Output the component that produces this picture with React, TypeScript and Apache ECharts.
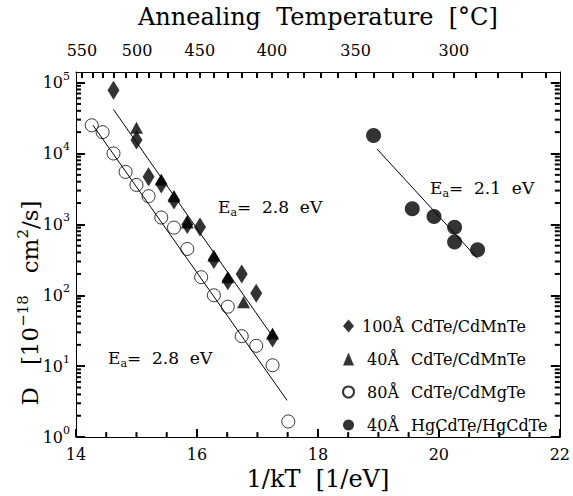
import { useEffect, useRef } from "react";
import * as echarts from "echarts";

// ---------- data ----------
const seriesNames = [
  "100Å CdTe/CdMnTe",
  "40Å CdTe/CdMnTe",
  "80Å CdTe/CdMgTe",
  "40Å HgCdTe/HgCdTe",
];

// 100Å CdTe/CdMnTe (diamonds)
const invKT_100CdMnTe = [14.62, 15.0, 15.2, 15.41, 15.62, 15.84, 16.05, 16.28, 16.51, 16.74, 16.98, 17.25];
const D_100CdMnTe = [78000, 15500, 4700, 3700, 2200, 1000, 920, 320, 160, 200, 107, 25];

// 40Å CdTe/CdMnTe (triangles)
const invKT_40CdMnTe = [15.0, 15.41, 15.62, 15.84, 16.28, 16.51, 16.77, 17.25];
const D_40CdMnTe = [23000, 4300, 2500, 1060, 360, 180, 80, 29];

// 80Å CdTe/CdMgTe (open circles)
const invKT_80CdMgTe = [14.26, 14.44, 14.62, 14.82, 15.0, 15.2, 15.41, 15.62, 15.84, 16.07, 16.28, 16.51, 16.74, 16.98, 17.25, 17.51];
const D_80CdMgTe = [25000, 20000, 10000, 5500, 3600, 2500, 1250, 900, 450, 180, 100, 69, 26.5, 19.4, 10.3, 1.66];

// 40Å HgCdTe/HgCdTe (filled circles)
const invKT_40HgCdTe = [18.92, 19.56, 19.92, 20.26, 20.26, 20.64];
const D_40HgCdTe = [18000, 1660, 1290, 910, 565, 440];

// fit lines (end points)
const fitCdMnTe_x = [14.62, 17.25];
const fitCdMnTe_D = [41700, 26.3];
const fitCdMgTe_x = [14.28, 17.49];
const fitCdMgTe_D = [25100, 3.3];
const fitHgCdTe_x = [18.98, 20.64];
const fitHgCdTe_D = [11500, 331];

// axes ticks
const xMinorTicks = [14.5, 15, 15.5, 16.5, 17, 17.5, 18.5, 19, 19.5, 20.5, 21, 21.5];
const yMajorTicks = [1, 10, 100, 1000, 10000, 100000];
const yMinorTicks = [
  2, 3, 4, 5, 6, 7, 8, 9,
  20, 30, 40, 50, 60, 70, 80, 90,
  200, 300, 400, 500, 600, 700, 800, 900,
  2000, 3000, 4000, 5000, 6000, 7000, 8000, 9000,
  20000, 30000, 40000, 50000, 60000, 70000, 80000, 90000,
];
const tempTickC = [550, 540, 530, 520, 510, 500, 490, 480, 470, 460, 450, 440, 430, 420, 410, 400, 390, 380, 370, 360, 350, 340, 330, 320, 310, 300, 290, 280, 270, 260];
const tempLabelC = [550, 500, 450, 400, 350, 300];

const BOLTZMANN_EV = 8.617e-5;
const cToInvKT = (c: number) => 1 / (BOLTZMANN_EV * (c + 273.15));
const invKTToC = (v: number) => 1 / (BOLTZMANN_EV * v) - 273.15;

const FONT = "'DejaVu Serif', serif";
const BLACK = "#000";
const TICK_W = 2;

const zip = (xs: number[], ys: number[]) => xs.map((x, i) => [x, ys[i]]);

// minor tick marks drawn through the axes' scales
function xTickSeries(values: number[], len: number) {
  return {
    type: "custom",
    xAxisIndex: 0,
    yAxisIndex: 0,
    silent: true,
    clip: false,
    z: 6,
    data: values.map((v) => [v, 1]),
    renderItem: (params: any, api: any) => {
      const cs = params.coordSys;
      const x = api.coord([api.value(0), api.value(1)])[0];
      const y0 = cs.y + cs.height;
      return {
        type: "line",
        shape: { x1: x, y1: y0, x2: x, y2: y0 - len },
        style: { stroke: BLACK, lineWidth: TICK_W },
      };
    },
  };
}

function yTickSeries(values: number[], len: number) {
  return {
    type: "custom",
    xAxisIndex: 0,
    yAxisIndex: 0,
    silent: true,
    clip: false,
    z: 6,
    data: values.map((v) => [14, v]),
    renderItem: (params: any, api: any) => {
      const cs = params.coordSys;
      const y = api.coord([api.value(0), api.value(1)])[1];
      const xl = cs.x;
      const xr = cs.x + cs.width;
      return {
        type: "group",
        children: [
          { type: "line", shape: { x1: xl, y1: y, x2: xl + len, y2: y }, style: { stroke: BLACK, lineWidth: TICK_W } },
          { type: "line", shape: { x1: xr, y1: y, x2: xr - len, y2: y }, style: { stroke: BLACK, lineWidth: TICK_W } },
        ],
      };
    },
  };
}

function buildOption(): any {
  const axisLine = { show: true, onZero: false, lineStyle: { color: BLACK, width: 1 } };
  const eaRich = {
    e: { fontFamily: FONT, fontSize: 17, color: BLACK, lineHeight: 22 },
    s: { fontFamily: FONT, fontSize: 11, color: BLACK, lineHeight: 11, verticalAlign: "bottom" },
  };
  const lineStyle = { color: BLACK, width: 1 };
  const yTitleRich = {
    m: { fontFamily: FONT, fontSize: 23, color: BLACK, lineHeight: 30 },
    sup: { fontFamily: FONT, fontSize: 15, color: BLACK, lineHeight: 14, verticalAlign: "top" },
  };
  const tickLine = { color: BLACK, width: TICK_W };

  return {
    animation: false,
    backgroundColor: "#fff",
    grid: { left: 76, right: 9, top: 70, bottom: 50, containLabel: false },
    xAxis: [
      {
        type: "value",
        min: 14,
        max: 22,
        interval: 2,
        position: "bottom",
        splitLine: { show: false },
        axisLine,
        axisTick: { show: true, inside: true, length: 8, lineStyle: tickLine },
        axisLabel: { color: BLACK, fontFamily: FONT, fontSize: 16, margin: 9 },
        name: "1/kT  [1/eV]",
        nameLocation: "middle",
        nameGap: 27,
        nameTextStyle: { color: BLACK, fontFamily: FONT, fontSize: 24 },
      },
      {
        type: "value",
        min: 14,
        max: 22,
        position: "top",
        splitLine: { show: false },
        axisLine,
        axisTick: { show: true, inside: true, length: 6, customValues: tempTickC.map(cToInvKT), lineStyle: tickLine },
        axisLabel: {
          show: true,
          customValues: tempLabelC.map(cToInvKT),
          formatter: (v: number) => String(Math.round(invKTToC(v))),
          color: BLACK,
          fontFamily: FONT,
          fontSize: 16,
          margin: 14,
        },
        name: "Annealing  Temperature  [°C]",
        nameLocation: "middle",
        nameGap: 43,
        nameTextStyle: { color: BLACK, fontFamily: FONT, fontSize: 24 },
      },
    ],
    yAxis: [
      {
        type: "log",
        logBase: 10,
        min: 1,
        max: 141000,
        position: "left",
        splitLine: { show: false },
        axisLine,
        axisTick: { show: true, inside: true, length: 9, customValues: yMajorTicks, lineStyle: tickLine },
        axisLabel: {
          show: true,
          customValues: yMajorTicks,
          margin: 6,
          formatter: (v: number) => `{b|10}{sup|${Math.round(Math.log10(v))}}`,
          rich: {
            b: { fontFamily: FONT, fontSize: 16, color: BLACK, lineHeight: 24 },
            sup: { fontFamily: FONT, fontSize: 11, color: BLACK, lineHeight: 12, verticalAlign: "top" },
          },
        },
      },
      {
        type: "log",
        logBase: 10,
        min: 1,
        max: 141000,
        position: "right",
        splitLine: { show: false },
        axisLine,
        axisTick: { show: true, inside: true, length: 9, customValues: yMajorTicks, lineStyle: tickLine },
        axisLabel: { show: false },
      },
    ],
    legend: {
      show: true,
      orient: "vertical",
      left: 337,
      top: 313,
      itemGap: 17,
      itemWidth: 11,
      itemHeight: 13,
      selectedMode: false,
      data: [
        { name: seriesNames[0], icon: "diamond" },
        { name: seriesNames[1], icon: "triangle" },
        { name: seriesNames[2], icon: "circle" },
        { name: seriesNames[3], icon: "circle" },
      ],
      formatter: (name: string) => {
        const i = name.indexOf(" ");
        return `{n|${name.slice(0, i)}}{m|${name.slice(i + 1)}}`;
      },
      textStyle: {
        color: BLACK,
        fontFamily: FONT,
        fontSize: 16,
        rich: {
          n: { fontFamily: FONT, fontSize: 16, color: BLACK, width: 48, align: "right", lineHeight: 20 },
          m: { fontFamily: FONT, fontSize: 16, color: BLACK, padding: [0, 0, 0, 4], lineHeight: 20 },
        },
      },
    },
    graphic: [
      { type: "text", x: 218, y: 207, style: { text: "{e|E}{s|a}{e|=  2.8  eV}", rich: eaRich, verticalAlign: "middle" } },
      { type: "text", x: 108, y: 358, style: { text: "{e|E}{s|a}{e|=  2.8  eV}", rich: eaRich, verticalAlign: "middle" } },
      { type: "text", x: 430, y: 188, style: { text: "{e|E}{s|a}{e|=  2.1  eV}", rich: eaRich, verticalAlign: "middle" } },
      {
        type: "text",
        x: 30,
        y: 303,
        rotation: Math.PI / 2,
        style: {
          text: "{m|D   [10}{sup|−18}{m|   cm}{sup|2}{m|/s]}",
          rich: yTitleRich,
          align: "center",
          verticalAlign: "middle",
        },
      },
    ],
    series: [
      xTickSeries(xMinorTicks, 5),
      yTickSeries(yMinorTicks, 5),
      { type: "line", data: zip(fitCdMnTe_x, fitCdMnTe_D), showSymbol: false, lineStyle, silent: true, z: 1 },
      { type: "line", data: zip(fitCdMgTe_x, fitCdMgTe_D), showSymbol: false, lineStyle, silent: true, z: 1 },
      { type: "line", data: zip(fitHgCdTe_x, fitHgCdTe_D), showSymbol: false, lineStyle, silent: true, z: 1 },
      {
        type: "scatter",
        name: seriesNames[0],
        data: zip(invKT_100CdMnTe, D_100CdMnTe),
        symbol: "diamond",
        symbolSize: [12, 19],
        itemStyle: { color: BLACK },
        z: 3,
      },
      {
        type: "scatter",
        name: seriesNames[1],
        data: zip(invKT_40CdMnTe, D_40CdMnTe),
        symbol: "triangle",
        symbolSize: [13, 12],
        itemStyle: { color: BLACK },
        z: 4,
      },
      {
        type: "scatter",
        name: seriesNames[2],
        data: zip(invKT_80CdMgTe, D_80CdMgTe),
        symbol: "circle",
        symbolSize: 13,
        itemStyle: { color: "rgba(255,255,255,0)", borderColor: BLACK, borderWidth: 1 },
        z: 3,
      },
      {
        type: "scatter",
        name: seriesNames[3],
        data: zip(invKT_40HgCdTe, D_40HgCdTe),
        symbol: "circle",
        symbolSize: 15,
        itemStyle: { color: BLACK },
        z: 3,
      },
    ],
  };
}

export default function App() {
  const ref = useRef<HTMLDivElement>(null);
  useEffect(() => {
    if (!ref.current) return;
    const chart = echarts.init(ref.current, null, { renderer: "svg" });
    chart.setOption(buildOption());
    return () => chart.dispose();
  }, []);
  return (
    <div
      ref={ref}
      style={{ position: "absolute", left: 0, top: 0, width: 573, height: 496, background: "#fff" }}
    />
  );
}
